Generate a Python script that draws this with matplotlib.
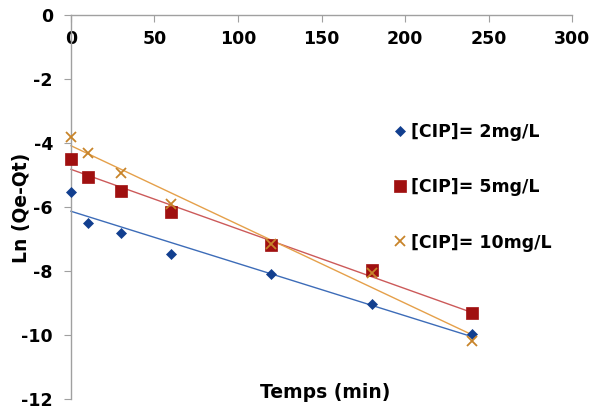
import matplotlib.pyplot as plt
import numpy as np

plt.rcParams['font.family'] = ['DejaVu Sans']
plt.rcParams['axes.unicode_minus'] = False

temps = [0, 10, 30, 60, 120, 180, 240]
cip_2 = [-5.53, -6.49, -6.81, -7.47, -8.09, -9.02, -9.97]
cip_5 = [-4.51, -5.05, -5.50, -6.16, -7.18, -7.97, -9.32]
cip_10 = [-3.80, -4.32, -4.93, -5.91, -7.15, -8.05, -10.18]

series = [
    ("[CIP]= 2mg/L", cip_2, "D", "#123f8f", "#3d6cb8", 5),
    ("[CIP]= 5mg/L", cip_5, "s", "#a01010", "#cc5a5a", 8),
    ("[CIP]= 10mg/L", cip_10, "x", "#c8842a", "#e5a04a", 7),
]

fig = plt.figure(figsize=(5.94, 4.11), dpi=100)
ax = fig.add_axes([0.1195, 0.0292, 0.8435, 0.9343])

x = np.array(temps, dtype=float)
for label, vals, mk, col, lcol, ms in series:
    # linear trendline as in the spreadsheet
    a, b = np.polyfit(x, vals, 1)
    ax.plot(x, a * x + b, color=lcol, lw=1, zorder=2, clip_on=False)
for label, vals, mk, col, lcol, ms in series:
    ax.plot(temps, vals, linestyle='none', marker=mk, color=col, markersize=ms,
            markeredgewidth=1.3 if mk == "x" else 0.5, label=label, zorder=3, clip_on=False)

ax.set_xlim(0, 300)
ax.set_ylim(-12, 0)
ax.set_xticks(range(0, 301, 50))
ax.set_yticks(range(-12, 1, 2))

ax.spines['top'].set_visible(False)
ax.spines['right'].set_visible(False)
ax.spines['bottom'].set_position(('data', 0))
for s in ['left', 'bottom']:
    ax.spines[s].set_color('#a0a0a0')
    ax.spines[s].set_linewidth(1)
ax.tick_params(axis='both', direction='out', length=5, color='#a0a0a0',
               labelsize=12.5, pad=8)
ax.tick_params(axis='x', pad=6)
for t in ax.get_xticklabels() + ax.get_yticklabels():
    t.set_fontweight('bold')

fig.text(0.037, 0.494, "Ln (Qe-Qt)", rotation=90, ha='center', va='center',
         fontsize=13.5, fontweight='bold')
fig.text(0.547, 0.044, "Temps (min)", ha='center', va='center',
         fontsize=13.5, fontweight='bold')

leg = ax.legend(loc='upper left', bbox_to_anchor=(0.643, 0.719), frameon=False,
                borderaxespad=0, borderpad=0,
                labelspacing=2.15, handletextpad=0.25, handlelength=0.8,
                prop={'weight': 'bold', 'size': 12.5})

fig.savefig("out.png", dpi=100)
